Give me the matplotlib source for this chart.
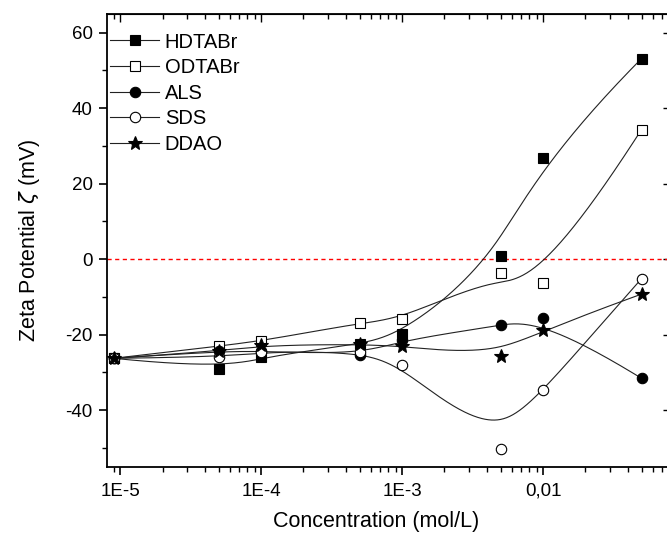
import matplotlib
matplotlib.use("Agg")
import matplotlib.pyplot as plt
import numpy as np
from matplotlib.lines import Line2D

plt.rcParams["font.family"] = ["Liberation Sans", "DejaVu Sans"]
plt.rcParams["mathtext.fontset"] = "dejavusans"
plt.rcParams["axes.unicode_minus"] = False

# concentrations (mol/L)
conc = [9e-6, 5e-5, 1e-4, 5e-4, 1e-3, 5e-3, 1e-2, 5e-2]

# zeta potential (mV)
hdtabr = [-26.3, -29.1, -25.9, -22.6, -19.9, 0.9, 26.7, 53.1]
odtabr = [-26.3, -23.1, -21.8, -16.9, -15.9, -3.8, -6.3, 34.3]
als = [-26.3, -24.4, -24.4, -25.3, -21.5, -17.6, -15.6, -31.6]
sds = [-26.3, -26.0, -24.5, -24.6, -28.2, -50.2, -34.7, -5.2]
ddao = [-26.3, -24.4, -22.8, -22.6, -23.1, -25.7, -18.7, -9.3]

names = ["HDTABr", "ODTABr", "ALS", "SDS", "DDAO"]
xtick_vals = [1e-5, 1e-4, 1e-3, 1e-2]
xtick_labels = ["1E-5", "1E-4", "1E-3", "0,01"]
ytick_vals = [-40, -20, 0, 20, 40, 60]


def bspline(px, py, n=400, k=3):
    # clamped cubic B-spline, control points = data (log x, y)
    m = len(px)
    knots = np.concatenate([[0] * k, np.arange(m - k + 1), [m - k] * k]).astype(float)
    t = np.linspace(0, m - k, n)
    nb = len(knots) - 1
    N = np.zeros((n, nb))
    for i in range(nb):
        N[:, i] = (knots[i] <= t) & (t < knots[i + 1])
    last = max(i for i in range(nb) if knots[i] < knots[i + 1])
    N[t >= knots[-1], last] = 1.0
    for d in range(1, k + 1):
        newN = np.zeros((n, nb - d))
        for i in range(nb - d):
            a = knots[i + d] - knots[i]
            b = knots[i + d + 1] - knots[i + 1]
            term = np.zeros(n)
            if a > 0:
                term += (t - knots[i]) / a * N[:, i]
            if b > 0:
                term += (knots[i + d + 1] - t) / b * N[:, i + 1]
            newN[:, i] = term
        N = newN
    return N @ np.asarray(px), N @ np.asarray(py)


fig = plt.figure(figsize=(6.67, 5.37), dpi=100)
ax = fig.add_axes([0.160, 0.131, 0.843, 0.8436])

styles = [
    dict(marker="s", mfc="black", mec="black", ms=7),
    dict(marker="s", mfc="white", mec="black", ms=7.5),
    dict(marker="o", mfc="black", mec="black", ms=7.5),
    dict(marker="o", mfc="white", mec="black", ms=7.5),
    dict(marker="*", mfc="black", mec="black", ms=10),
]
series = [hdtabr, odtabr, als, sds, ddao]

ax.axhline(0, color="#ff0000", lw=1.0, ls=(0, (3, 2.5)), zorder=1)

handles = []
lx = np.log10(conc)
for vals, st, name in zip(series, styles, names):
    bx, by = bspline(lx, vals)
    ax.plot(10 ** bx, by, color="#222222", lw=0.8, zorder=2)
    ax.plot(conc, vals, ls="none", mew=0.8, zorder=3, **st)
    handles.append(Line2D([], [], color="#222222", lw=0.8, mew=0.8, label=name, **st))

ax.set_xscale("log")
ax.set_xlim(8.04e-6, 0.0783)
ax.set_ylim(-55, 65)
ax.set_xticks(xtick_vals)
ax.set_xticklabels(xtick_labels)
ax.set_yticks(ytick_vals)
ax.set_yticks(np.arange(-50, 65, 20), minor=True)

for sp in ax.spines.values():
    sp.set_linewidth(1.3)

ax.tick_params(axis="both", which="major", direction="out", length=6, width=1.2,
               labelsize=13.5, pad=4)
ax.tick_params(axis="both", which="minor", direction="out", length=3.5, width=1.0)
ax.tick_params(axis="x", which="major", pad=5.5)

top = ax.secondary_xaxis("top")
top.set_xticks(xtick_vals)
top.tick_params(which="both", direction="in", labeltop=False, width=1.0)
top.tick_params(which="major", length=6)
top.tick_params(which="minor", length=3.5)
right = ax.secondary_yaxis("right")
right.set_yticks(ytick_vals)
right.tick_params(which="major", direction="in", length=4, width=1.0, labelright=False)

ax.set_xlabel("Concentration (mol/L)", fontsize=15.5)
ax.set_ylabel(r"Zeta Potential $\zeta$ (mV)", fontsize=15.5)
ax.xaxis.set_label_coords(0.48, -0.097)
ax.yaxis.set_label_coords(-0.115, 0.5)

ax.legend(handles=handles, loc="upper left", bbox_to_anchor=(-0.015, 0.985),
          frameon=False, fontsize=14.5, handlelength=2.4, handletextpad=0.3,
          labelspacing=0.33, borderaxespad=0.2)

fig.savefig("out.png", dpi=100)
